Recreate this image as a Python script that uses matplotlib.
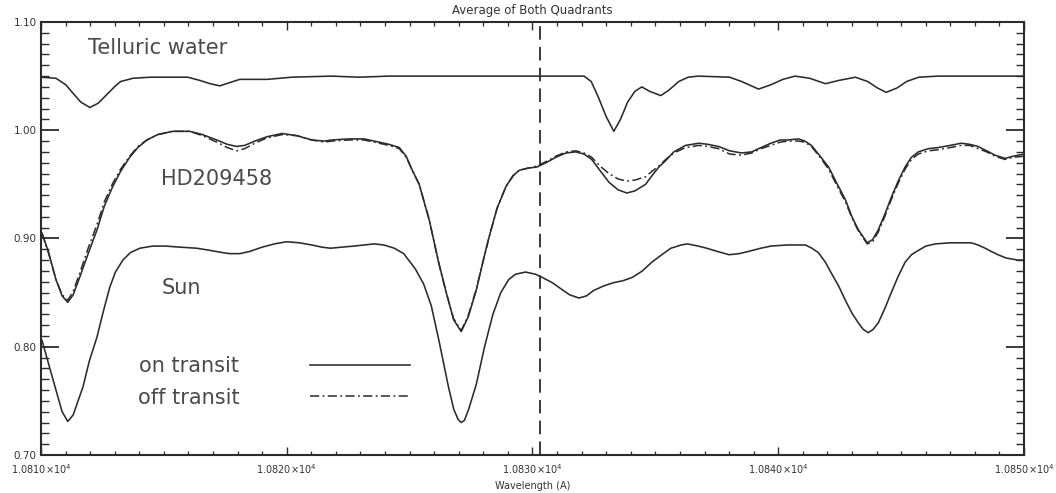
import matplotlib
matplotlib.use("Agg")
import matplotlib.pyplot as plt
from matplotlib.ticker import MultipleLocator, FuncFormatter

# Telluric water spectrum (wavelength in A, normalised flux)
tell_wl = [10810.0, 10810.61, 10811.01, 10811.31, 10811.62, 10811.99, 10812.33, 10812.68, 10813.03, 10813.24,
           10813.74, 10814.45, 10815.97, 10816.47, 10816.88, 10817.28, 10817.68, 10818.09, 10819.2, 10820.21,
           10821.83, 10822.94, 10824.16, 10832.1, 10832.39, 10832.69, 10832.99, 10833.31, 10833.58, 10833.87,
           10834.17, 10834.45, 10834.76, 10835.22, 10835.55, 10835.95, 10836.34, 10836.74, 10838.02, 10838.51,
           10839.2, 10839.7, 10840.19, 10840.68, 10841.28, 10841.92, 10842.46, 10843.14, 10843.64, 10844.04,
           10844.39, 10844.83, 10845.22, 10845.72, 10846.51, 10850.0]
tell_flux = [1.049, 1.048, 1.042, 1.034, 1.026, 1.021, 1.025, 1.033, 1.041, 1.045,
             1.048, 1.049, 1.049, 1.046, 1.043, 1.041, 1.044, 1.047, 1.047, 1.049,
             1.050, 1.049, 1.050, 1.050, 1.045, 1.030, 1.013, 0.999, 1.010, 1.026,
             1.036, 1.040, 1.036, 1.032, 1.037, 1.045, 1.049, 1.050, 1.049, 1.045,
             1.038, 1.042, 1.047, 1.050, 1.048, 1.043, 1.046, 1.049, 1.045, 1.039,
             1.035, 1.039, 1.045, 1.049, 1.050, 1.050]

# HD209458, on and off transit
hd_wl = [10810.04, 10810.3, 10810.61, 10810.86, 10811.09, 10811.31, 10811.59, 10811.92, 10812.28, 10812.58,
         10812.92, 10813.24, 10813.61, 10813.94, 10814.31, 10814.75, 10815.36, 10816.05, 10816.57, 10817.15,
         10817.58, 10817.96, 10818.29, 10818.7, 10819.2, 10819.81, 10820.41, 10821.02, 10821.53, 10821.83,
         10822.54, 10823.15, 10823.76, 10824.16, 10824.58, 10824.86, 10825.11, 10825.39, 10825.8, 10826.18,
         10826.49, 10826.79, 10827.1, 10827.39, 10827.71, 10828.0, 10828.23, 10828.56, 10828.92, 10829.21,
         10829.46, 10829.82, 10830.18, 10830.55, 10830.95, 10831.36, 10831.76, 10832.1, 10832.41, 10832.74,
         10833.11, 10833.48, 10833.84, 10834.17, 10834.6, 10834.86, 10835.14, 10835.42, 10835.75, 10836.23,
         10836.76, 10837.13, 10837.57, 10838.02, 10838.51, 10838.92, 10839.3, 10839.7, 10840.08, 10840.39,
         10840.82, 10841.08, 10841.35, 10841.67, 10842.05, 10842.36, 10842.73, 10843.0, 10843.26, 10843.62,
         10843.84, 10844.07, 10844.33, 10844.6, 10844.88, 10845.16, 10845.42, 10845.7, 10846.11, 10846.51,
         10847.0, 10847.44, 10847.79, 10848.13, 10848.48, 10848.82, 10849.23, 10849.56, 10850.0]
hd_on = [0.905, 0.888, 0.862, 0.847, 0.841, 0.848, 0.865, 0.886, 0.908, 0.930,
         0.948, 0.962, 0.975, 0.984, 0.991, 0.996, 0.999, 0.999, 0.996, 0.991,
         0.987, 0.985, 0.986, 0.990, 0.994, 0.997, 0.995, 0.991, 0.990, 0.991,
         0.992, 0.992, 0.989, 0.987, 0.984, 0.976, 0.963, 0.950, 0.917, 0.878,
         0.850, 0.825, 0.814, 0.828, 0.852, 0.880, 0.901, 0.928, 0.948, 0.958,
         0.963, 0.965, 0.966, 0.970, 0.975, 0.979, 0.980, 0.978, 0.973, 0.963,
         0.952, 0.945, 0.942, 0.944, 0.950, 0.958, 0.966, 0.972, 0.980, 0.986,
         0.988, 0.987, 0.985, 0.981, 0.979, 0.980, 0.984, 0.988, 0.991, 0.991,
         0.992, 0.990, 0.986, 0.977, 0.966, 0.952, 0.936, 0.920, 0.908, 0.896,
         0.899, 0.908, 0.922, 0.938, 0.953, 0.966, 0.975, 0.980, 0.983, 0.984,
         0.986, 0.988, 0.987, 0.985, 0.981, 0.977, 0.974, 0.976, 0.978]
hd_off = [0.905, 0.887, 0.862, 0.848, 0.843, 0.851, 0.869, 0.891, 0.913, 0.934,
          0.951, 0.964, 0.976, 0.985, 0.991, 0.996, 0.999, 0.999, 0.995, 0.989,
          0.984, 0.981, 0.983, 0.988, 0.993, 0.996, 0.995, 0.991, 0.989, 0.990,
          0.991, 0.991, 0.988, 0.986, 0.983, 0.975, 0.963, 0.950, 0.917, 0.878,
          0.850, 0.826, 0.815, 0.829, 0.853, 0.880, 0.901, 0.928, 0.948, 0.958,
          0.963, 0.965, 0.967, 0.971, 0.976, 0.980, 0.981, 0.979, 0.975, 0.967,
          0.960, 0.955, 0.953, 0.954, 0.957, 0.962, 0.967, 0.973, 0.979, 0.984,
          0.986, 0.985, 0.983, 0.978, 0.977, 0.979, 0.983, 0.986, 0.989, 0.990,
          0.990, 0.989, 0.985, 0.976, 0.964, 0.950, 0.934, 0.919, 0.907, 0.895,
          0.897, 0.906, 0.920, 0.936, 0.951, 0.964, 0.973, 0.978, 0.981, 0.982,
          0.984, 0.986, 0.986, 0.983, 0.980, 0.976, 0.973, 0.975, 0.976]

# Solar spectrum
sun_wl = [10810.04, 10810.3, 10810.61, 10810.86, 10811.09, 10811.31, 10811.71, 10811.97, 10812.28, 10812.53,
          10812.8, 10813.03, 10813.33, 10813.64, 10814.02, 10814.55, 10815.06, 10815.66, 10816.34, 10816.88,
          10817.38, 10817.68, 10818.09, 10818.49, 10819.0, 10819.5, 10819.99, 10820.52, 10821.02, 10821.43,
          10821.78, 10822.24, 10822.74, 10823.15, 10823.56, 10823.95, 10824.38, 10824.76, 10825.23, 10825.57,
          10825.88, 10826.2, 10826.58, 10826.8, 10826.97, 10827.1, 10827.23, 10827.4, 10827.71, 10828.05,
          10828.39, 10828.71, 10829.03, 10829.31, 10829.72, 10830.12, 10830.4, 10830.82, 10831.19, 10831.51,
          10831.89, 10832.2, 10832.49, 10832.88, 10833.27, 10833.68, 10834.06, 10834.47, 10834.85, 10835.26,
          10835.63, 10836.05, 10836.3, 10836.74, 10837.09, 10837.53, 10838.0, 10838.41, 10838.78, 10839.29,
          10839.7, 10840.36, 10840.78, 10841.11, 10841.37, 10841.63, 10841.92, 10842.16, 10842.46, 10842.73,
          10843.0, 10843.26, 10843.46, 10843.66, 10843.86, 10844.07, 10844.33, 10844.6, 10844.88, 10845.16,
          10845.42, 10845.7, 10846.01, 10846.39, 10847.0, 10847.44, 10847.85, 10848.13, 10848.42, 10848.67,
          10848.94, 10849.27, 10849.76, 10850.0]
sun_flux = [0.806, 0.785, 0.760, 0.740, 0.731, 0.737, 0.763, 0.787, 0.809, 0.832,
            0.855, 0.869, 0.880, 0.887, 0.891, 0.893, 0.893, 0.892, 0.891, 0.889,
            0.887, 0.886, 0.886, 0.888, 0.892, 0.895, 0.897, 0.896, 0.894, 0.892,
            0.891, 0.892, 0.893, 0.894, 0.895, 0.894, 0.891, 0.886, 0.872, 0.858,
            0.838, 0.805, 0.763, 0.742, 0.733, 0.730, 0.732, 0.742, 0.765, 0.800,
            0.830, 0.850, 0.862, 0.867, 0.869, 0.867, 0.864, 0.859, 0.853, 0.848,
            0.845, 0.847, 0.852, 0.856, 0.859, 0.861, 0.864, 0.870, 0.878, 0.885,
            0.891, 0.894, 0.895, 0.893, 0.891, 0.888, 0.885, 0.886, 0.888, 0.891,
            0.893, 0.894, 0.894, 0.894, 0.891, 0.887, 0.878, 0.868, 0.856, 0.843,
            0.831, 0.822, 0.816, 0.813, 0.816, 0.822, 0.835, 0.850, 0.865, 0.878,
            0.885, 0.889, 0.893, 0.895, 0.896, 0.896, 0.896, 0.894, 0.891, 0.888,
            0.885, 0.882, 0.880, 0.880]

he_line = 10830.3
labels = ["on transit", "off transit"]

ink = "#2b2b2b"
txt = "#4a4a4a"
dashdot = (0, (6, 2.2, 1.2, 2.2))

fig = plt.figure(figsize=(10.56, 4.93), dpi=100)
ax = fig.add_axes([0.0388, 0.0771, 0.9309, 0.8783])

ax.plot(tell_wl, tell_flux, color=ink, lw=1.15)
l_on, = ax.plot(hd_wl, hd_on, color=ink, lw=1.15)
l_off, = ax.plot(hd_wl, hd_off, color=ink, lw=1.1, ls=dashdot)
ax.plot(sun_wl, sun_flux, color=ink, lw=1.15)
ax.axvline(he_line, color=ink, lw=1.3, ls=(0, (7.5, 4)))

ax.set_xlim(10810, 10850)
ax.set_ylim(0.70, 1.10)

#labels inside the plot
ax.text(10811.9, 1.076, "Telluric water", fontsize=15, color=txt, va="center")
ax.text(10814.9, 0.955, "HD209458", fontsize=15, color=txt, va="center")
ax.text(10814.9, 0.854, "Sun", fontsize=15, color=txt, va="center")

leg = ax.legend([l_on, l_off], labels, loc="upper left", bbox_to_anchor=(0.0985, 0.228),
                frameon=False, markerfirst=False, fontsize=15, handlelength=4.8,
                handletextpad=3.4, labelspacing=0.55, borderpad=0, borderaxespad=0)
for t in leg.get_texts():
    t.set_color(txt)

# IDL style axes
ax.xaxis.set_major_locator(MultipleLocator(10))
ax.xaxis.set_minor_locator(MultipleLocator(1))
ax.yaxis.set_major_locator(MultipleLocator(0.1))
ax.yaxis.set_minor_locator(MultipleLocator(0.01))
ax.xaxis.set_major_formatter(FuncFormatter(lambda v, p: r"%.4f$\times$10$^4$" % (v / 1e4)))
ax.yaxis.set_major_formatter(FuncFormatter(lambda v, p: "%.2f" % v))

ax.tick_params(which="both", direction="in", top=True, right=True, colors=ink, labelcolor="#333333")
ax.tick_params(axis="x", which="major", length=6, width=1.0, labelsize=7, pad=5)
ax.tick_params(axis="x", which="minor", length=3, width=0.9)
ax.tick_params(axis="y", which="major", length=13, width=1.3, labelsize=7.5, pad=3)
ax.tick_params(axis="y", which="minor", length=6, width=1.0)
for s in ax.spines.values():
    s.set_linewidth(1.5)
    s.set_color(ink)

ax.set_title("Average of Both Quadrants", fontsize=8.5, color="#333333", pad=6)
ax.set_xlabel("Wavelength (A)", fontsize=7, color="#333333", labelpad=4)

fig.savefig("out.png", dpi=100)
